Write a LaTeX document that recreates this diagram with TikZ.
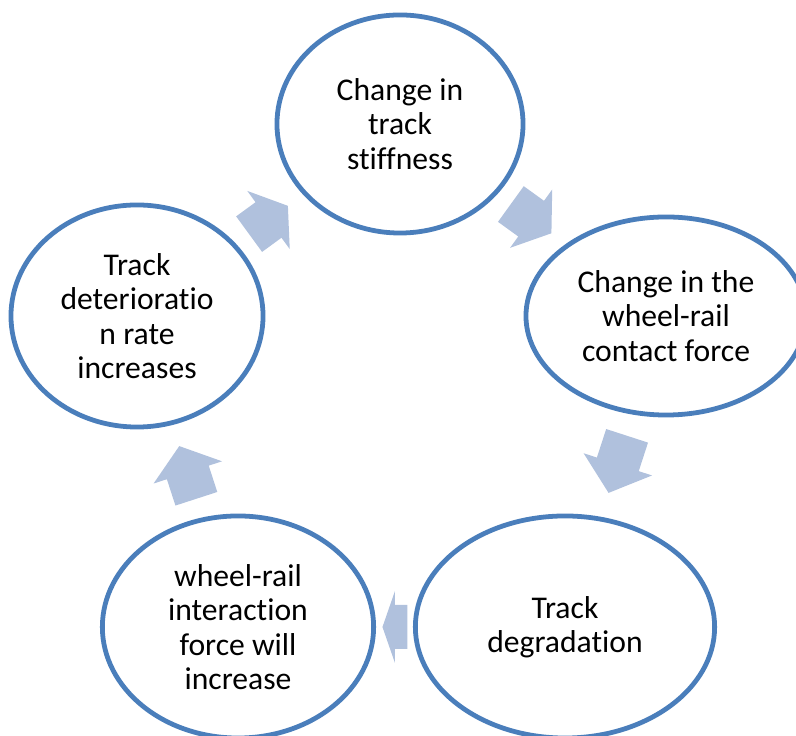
\documentclass[tikz,border=0pt]{standalone}
\usepackage{fontspec}
\setmainfont{Carlito}[Ligatures=NoCommon]
\usetikzlibrary{shapes.geometric}
\definecolor{ringblue}{HTML}{4A7EBB}
\definecolor{arrowblue}{HTML}{B0C1DD}
\tikzset{
  stage/.style={draw=ringblue, line width=3.4pt, fill=white, ellipse, align=center, inner sep=0pt, font=\fontsize{22.5}{24.5}\selectfont},
  cyclearrow/.pic={
    \fill[arrowblue] (-#1,-22) -- (0,-22) -- (0,-36) -- (#1,0) -- (0,36) -- (0,22) -- (-#1,22) -- cycle;
  },
  onpath/.style={sloped, allow upside down}
}
\begin{document}
\begin{tikzpicture}[x=0.025cm, y=0.025cm]
\clip (0,0) rectangle (796,736);
\node (stiff) [stage, minimum width=6.15cm, minimum height=5.45cm] at (400,612) {Change in\\track\\stiffness};
\node (contact) [stage, minimum width=7.0cm, minimum height=4.95cm] at (666,420) {Change in the\\wheel-rail\\contact force};
\node (degrade) [stage, minimum width=7.48cm, minimum height=5.55cm] at (565,109) {Track\\degradation};
\node (interact) [stage, minimum width=6.78cm, minimum height=5.55cm] at (238,109) {wheel-rail\\interaction\\force will\\increase};
\node (rate) [stage, minimum width=6.3cm, minimum height=5.55cm] at (137,420) {Track\\deterioratio\\n rate\\increases};

\path (rate.center) -- pic[onpath, pos=0.5] {cyclearrow=24} (stiff.center);
\path (stiff.center) -- pic[onpath, pos=0.493] {cyclearrow=25} (contact.center);
\path (contact.center) -- pic[onpath, pos=0.477] {cyclearrow=30} (degrade.center);
\path (degrade.center) -- pic[onpath, pos=0.52] {cyclearrow=12.5} (interact.center);
\path (interact.center) -- pic[onpath, pos=0.497] {cyclearrow=27.7} (rate.center);
\end{tikzpicture}
\end{document}
